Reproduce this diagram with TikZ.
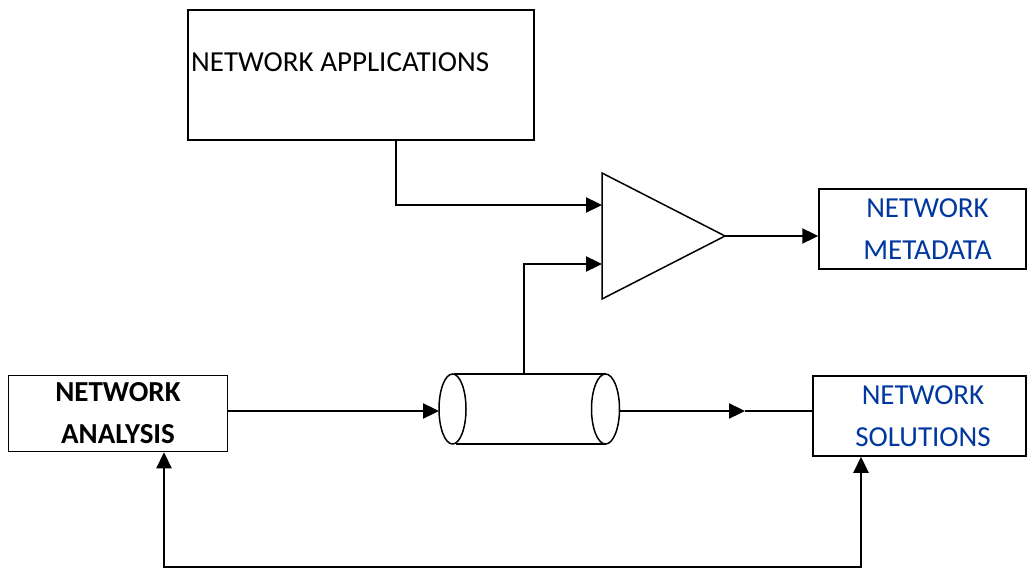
\documentclass[tikz,border=0pt]{standalone}
\usepackage{fontspec}
\setmainfont{Carlito}
\usetikzlibrary{arrows.meta}
\definecolor{txtblue}{RGB}{0,56,160}
\begin{document}
\begin{tikzpicture}[x=1pt,y=-1pt,
  box/.style={draw,line width=1.5pt,rectangle,inner sep=0pt},
  conn/.style={line width=2.3pt},
  tip/.style={-{Triangle[length=16pt,width=15pt]}},
  lbl/.style={font=\fontsize{29}{42}\selectfont,align=center}]
\useasboundingbox (0,0) rectangle (1027,569);
% boxes
\node[box,minimum width=346pt,minimum height=130pt] (apps) at (361,75) {};
\node[lbl,anchor=west,inner sep=0pt] (appst) at (191,62) {NETWORK APPLICATIONS};
\node[box,lbl,text=txtblue,minimum width=207pt,minimum height=80pt] (meta) at (922.5,229) {\hspace*{10pt}NETWORK\\\hspace*{10pt}METADATA};
\node[box,lbl,text=txtblue,minimum width=213pt,minimum height=80pt] (sol) at (919.5,416) {\hspace*{7pt}NETWORK\\\hspace*{7pt}SOLUTIONS};
\node[box,lbl,font=\fontsize{29}{42}\selectfont\bfseries,minimum width=219pt,minimum height=76pt] (ana) at (118,413.5) {NETWORK\\ANALYSIS};
% triangle
\coordinate (ttop) at (602,173);
\coordinate (tapex) at (725,236);
\coordinate (tbot) at (602,299);
\draw[line width=1.5pt] (ttop) -- (tapex) -- (tbot) -- cycle;
\coordinate (in1) at (602,205);
\coordinate (in2) at (602,264);
% cylinder
\draw[line width=1.5pt] (452.5,409) ellipse [x radius=13.5, y radius=35];
\draw[line width=1.5pt] (605.5,409) ellipse [x radius=14, y radius=35];
\draw[line width=1.5pt] (454,374) -- (605.5,374);
\draw[line width=1.5pt] (456,444) -- (605.5,444);
\coordinate (cylL) at (439,411);
\coordinate (cylR) at (619.5,411);
\coordinate (cylT) at (524,375);
\coordinate (mid) at (745,411);
% connectors
\draw[conn,tip] ([xshift=35pt]apps.south) |- (in1);
\draw[conn,tip] (cylT) |- (in2);
\draw[conn,tip] (tapex) -- (tapex -| meta.west);
\draw[conn,tip] (ana.east |- cylL) -- (cylL);
\draw[conn,tip] (cylR) -- (mid);
\draw[conn] (mid) -- (sol.west |- mid);
\coordinate (fb1) at (164,567);
\coordinate (fb2) at (861,567);
\draw[conn,{Triangle[length=16pt,width=15pt]}-{Triangle[length=16pt,width=15pt]}] (ana.south -| fb1) -- (fb1) -- (fb2) -- (sol.south -| fb2);
\end{tikzpicture}
\end{document}
